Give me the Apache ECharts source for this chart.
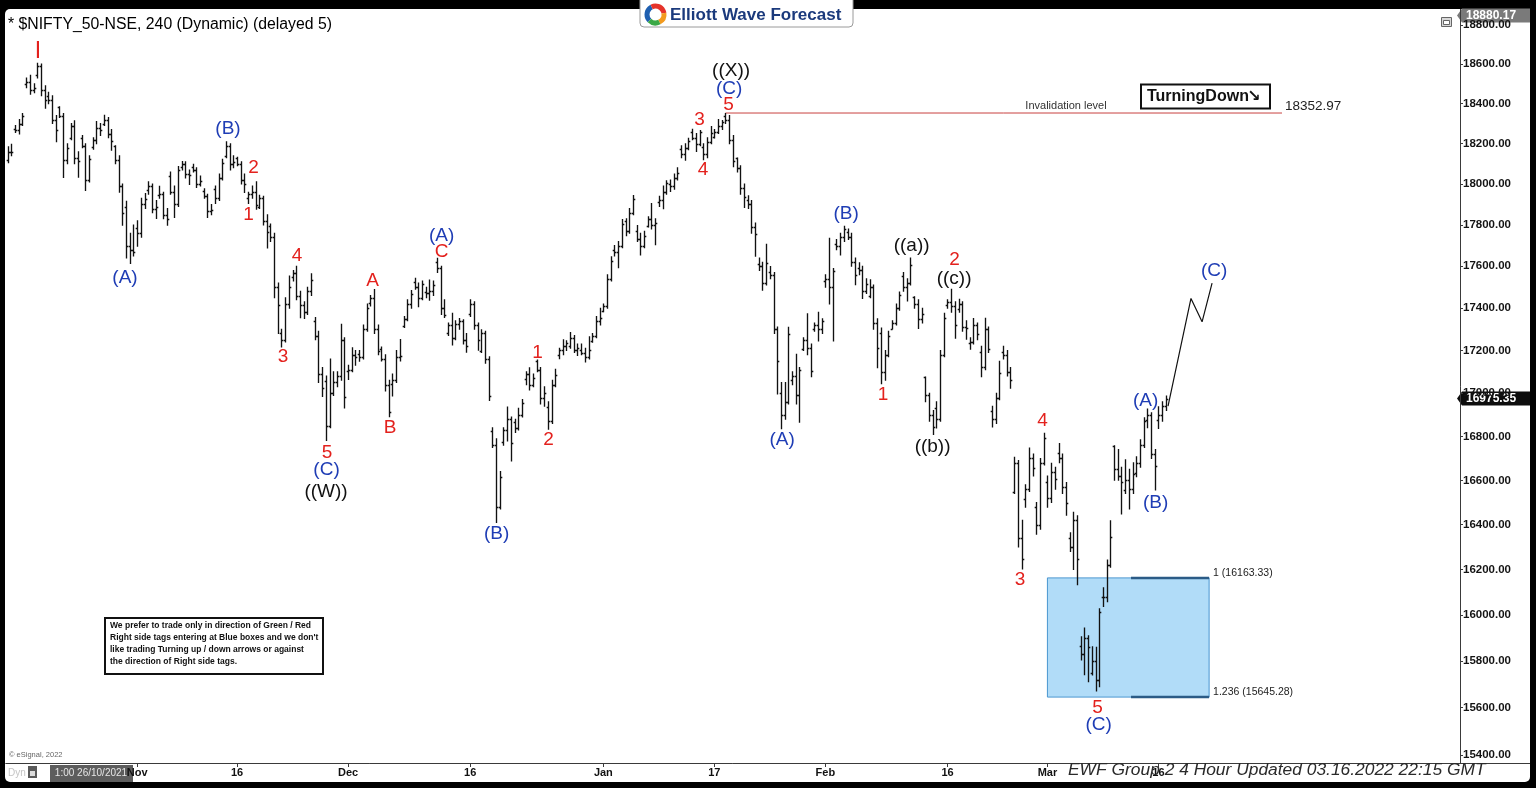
<!DOCTYPE html>
<html>
<head>
<meta charset="utf-8">
<title>NIFTY 50 - 4 Hour Elliott Wave</title>
<script src="https://cdn.jsdelivr.net/npm/echarts@6/dist/echarts.min.js"></script>
<style>
  html, body { margin: 0; padding: 0; background: #000; overflow: hidden; }
  #frame { position: absolute; left: 0; top: 0; width: 1536px; height: 788px; background: #000; }
  #paper { position: absolute; left: 5px; top: 9px; width: 1525px; height: 773px; background: #fff; border-radius: 5px; }
  #chart { position: absolute; left: 0; top: 0; width: 1536px; height: 788px; }
</style>
</head>
<body>
<div id="frame"><div id="paper"></div><div id="chart"></div></div>
<script>
// ---- Sessions: each trading day is split into three 240-minute bars (first day is partial) ----
const tradingDays = [
  '2021-10-13','2021-10-14','2021-10-18','2021-10-19','2021-10-20','2021-10-21','2021-10-22',
  '2021-10-25','2021-10-26','2021-10-27','2021-10-28','2021-10-29',
  '2021-11-01','2021-11-02','2021-11-03','2021-11-08','2021-11-09','2021-11-10','2021-11-11','2021-11-12',
  '2021-11-15','2021-11-16','2021-11-17','2021-11-18','2021-11-22','2021-11-23','2021-11-24','2021-11-25',
  '2021-11-26','2021-11-29','2021-11-30',
  '2021-12-01','2021-12-02','2021-12-03','2021-12-06','2021-12-07','2021-12-08','2021-12-09','2021-12-10',
  '2021-12-13','2021-12-14','2021-12-15','2021-12-16','2021-12-17','2021-12-20','2021-12-21','2021-12-22',
  '2021-12-23','2021-12-24','2021-12-27','2021-12-28','2021-12-29','2021-12-30','2021-12-31',
  '2022-01-03','2022-01-04','2022-01-05','2022-01-06','2022-01-07','2022-01-10','2022-01-11','2022-01-12',
  '2022-01-13','2022-01-14','2022-01-17','2022-01-18','2022-01-19','2022-01-20','2022-01-21','2022-01-24',
  '2022-01-25','2022-01-27','2022-01-28','2022-01-31',
  '2022-02-01','2022-02-02','2022-02-03','2022-02-04','2022-02-07','2022-02-08','2022-02-09','2022-02-10',
  '2022-02-11','2022-02-14','2022-02-15','2022-02-16','2022-02-17','2022-02-18','2022-02-21','2022-02-22',
  '2022-02-23','2022-02-24','2022-02-25','2022-02-28',
  '2022-03-02','2022-03-03','2022-03-04','2022-03-07','2022-03-08','2022-03-09','2022-03-10','2022-03-11',
  '2022-03-14','2022-03-15','2022-03-16'
];
const firstDaySessions = 2;

// ---- Bars: [open, high, low, close], one row per trading day ----
const ohlc = [
  [18120,18185,18105,18160],[18160,18197,18140,18161],                               // 10-13
  [18272,18290,18255,18270],[18270,18320,18248,18300],[18300,18350,18290,18338],     // 10-14
  [18500,18530,18480,18510],[18510,18543,18447,18470],[18470,18500,18455,18477],     // 10-18
  [18545,18604,18530,18590],[18590,18600,18440,18470],[18470,18490,18377,18418],     // 10-19
  [18439,18458,18400,18420],[18420,18440,18300,18320],[18320,18340,18209,18266],     // 10-20
  [18382,18384,18330,18340],[18340,18350,18033,18120],[18120,18200,18100,18178],     // 10-21
  [18230,18300,18220,18290],[18290,18314,18100,18130],[18130,18160,18034,18114],     // 10-22
  [18229,18241,18180,18190],[18190,18200,17968,18020],[18020,18140,18010,18125],     // 10-25
  [18182,18230,18172,18220],[18220,18310,18200,18280],[18280,18300,18240,18268],     // 10-26
  [18296,18342,18290,18320],[18320,18330,18230,18250],[18250,18270,18167,18211],     // 10-27
  [18187,18190,18100,18120],[18120,18140,17960,17990],[17990,18000,17799,17857],     // 10-28
  [17890,17916,17640,17700],[17700,17760,17613,17680],[17680,17800,17650,17671],     // 10-29
  [17783,17820,17697,17760],[17760,17930,17740,17900],[17900,17954,17880,17929],     // 11-01
  [17971,18012,17950,17990],[17990,18000,17860,17880],[17880,17920,17832,17889],     // 11-02
  [17947,17989,17930,17950],[17950,17960,17830,17850],[17850,17880,17799,17829],     // 11-03
  [18040,18060,17950,17960],[17960,17990,17836,17900],[17900,18087,17890,18068],     // 11-08
  [18085,18112,18070,18100],[18100,18110,18030,18050],[18050,18070,17998,18044],     // 11-09
  [18084,18098,18060,18070],[18070,18080,17983,18000],[18000,18040,17990,18017],     // 11-10
  [17967,17977,17930,17940],[17940,17950,17836,17870],[17870,17900,17850,17873],     // 11-11
  [17977,17990,17905,17930],[17930,18050,17920,18030],[18030,18123,18020,18102],     // 11-12
  [18141,18210,18130,18190],[18190,18200,18070,18100],[18100,18140,18080,18109],     // 11-15
  [18127,18132,18090,18100],[18100,18110,18000,18020],[18020,18050,17959,17999],     // 11-16
  [17930,17960,17905,17950],[17950,17990,17930,17960],[17960,18012,17877,17898],     // 11-17
  [17890,17945,17880,17930],[17930,17940,17800,17820],[17820,17850,17688,17765],     // 11-18
  [17796,17805,17720,17740],[17740,17760,17450,17500],[17500,17520,17280,17416],     // 11-22
  [17281,17300,17216,17250],[17250,17450,17240,17420],[17420,17553,17400,17503],     // 11-23
  [17550,17580,17530,17570],[17570,17600,17440,17460],[17460,17480,17354,17415],     // 11-24
  [17417,17430,17351,17380],[17380,17500,17370,17480],[17480,17564,17460,17536],     // 11-25
  [17338,17355,17250,17270],[17270,17290,17050,17090],[17090,17120,16985,17026],     // 11-26
  [17055,17080,16782,16850],[16850,17160,16840,17000],[17000,17100,16990,17053],     // 11-29
  [17051,17100,17030,17080],[17080,17324,17060,17250],[17250,17260,16931,16983],     // 11-30
  [17104,17130,17064,17110],[17110,17213,17100,17180],[17180,17200,17130,17167],     // 12-01
  [17183,17200,17149,17170],[17170,17320,17160,17300],[17300,17420,17290,17401],     // 12-02
  [17424,17460,17410,17450],[17450,17489,17280,17300],[17300,17320,17180,17196],     // 12-03
  [17209,17216,17150,17160],[17160,17180,17010,17040],[17040,17060,16891,16912],     // 12-06
  [17044,17090,16987,17060],[17060,17200,17050,17170],[17170,17251,17150,17176],     // 12-07
  [17315,17360,17308,17350],[17350,17440,17340,17420],[17420,17484,17400,17469],     // 12-08
  [17524,17543,17490,17500],[17500,17520,17406,17450],[17450,17530,17440,17516],     // 12-09
  [17476,17500,17450,17470],[17470,17534,17438,17480],[17480,17530,17460,17511],     // 12-10
  [17619,17639,17570,17590],[17590,17600,17370,17400],[17400,17440,17355,17368],     // 12-13
  [17283,17330,17270,17320],[17320,17376,17225,17260],[17260,17340,17250,17324],     // 12-14
  [17323,17351,17300,17340],[17340,17345,17230,17250],[17250,17280,17192,17221],     // 12-15
  [17373,17440,17360,17420],[17420,17430,17300,17320],[17320,17330,17201,17248],     // 12-16
  [17196,17298,17190,17280],[17280,17290,17140,17160],[17160,17170,16966,16985],     // 12-17
  [16824,16840,16750,16760],[16760,16790,16410,16480],[16480,16640,16470,16614],     // 12-20
  [16773,16840,16760,16830],[16830,16936,16780,16880],[16880,16890,16688,16770],     // 12-21
  [16865,16880,16819,16840],[16840,16930,16830,16900],[16900,16971,16890,16955],     // 12-22
  [17066,17100,17040,17090],[17090,17119,17015,17040],[17040,17090,17030,17072],     // 12-23
  [17150,17155,17100,17110],[17110,17120,16950,16980],[16980,17030,16940,17003],     // 12-24
  [16938,16960,16833,16870],[16870,17060,16860,17040],[17040,17112,17030,17086],     // 12-27
  [17178,17210,17161,17200],[17200,17250,17180,17220],[17220,17245,17200,17233],     // 12-28
  [17220,17285,17210,17260],[17260,17270,17190,17200],[17200,17230,17176,17213],     // 12-29
  [17201,17230,17180,17190],[17190,17210,17146,17170],[17170,17264,17160,17204],     // 12-30
  [17244,17280,17238,17270],[17270,17360,17260,17340],[17340,17400,17320,17354],     // 12-31
  [17387,17420,17383,17410],[17410,17560,17400,17540],[17540,17646,17530,17625],     // 01-03
  [17681,17700,17650,17670],[17670,17720,17593,17700],[17700,17827,17690,17805],     // 01-04
  [17820,17830,17748,17770],[17770,17880,17760,17860],[17860,17944,17850,17925],     // 01-05
  [17769,17797,17720,17730],[17730,17760,17655,17700],[17700,17770,17690,17745],     // 01-06
  [17797,17840,17790,17830],[17830,17905,17780,17800],[17800,17830,17704,17812],     // 01-07
  [17913,17940,17890,17920],[17920,17990,17879,17960],[17960,18017,17950,18003],     // 01-10
  [17998,18020,17964,17990],[17990,18050,17975,18030],[18030,18081,18020,18055],     // 01-11
  [18171,18190,18130,18150],[18150,18200,18118,18180],[18180,18227,18170,18212],     // 01-12
  [18257,18272,18220,18230],[18230,18250,18161,18200],[18200,18265,18190,18257],     // 01-13
  [18185,18200,18120,18150],[18150,18230,18130,18210],[18210,18286,18200,18255],     // 01-14
  [18235,18270,18228,18260],[18260,18321,18250,18290],[18290,18315,18270,18308],     // 01-17
  [18337,18350,18300,18320],[18320,18340,18200,18220],[18220,18240,18085,18113],     // 01-18
  [18129,18129,18060,18080],[18080,18090,17950,17980],[17980,18000,17885,17938],     // 01-19
  [17921,17943,17880,17900],[17900,17920,17760,17790],[17790,17810,17648,17757],     // 01-20
  [17613,17640,17580,17600],[17600,17620,17485,17520],[17520,17707,17510,17617],     // 01-21
  [17575,17599,17540,17560],[17560,17570,17280,17300],[17300,17310,16997,17149],     // 01-24
  [17001,17050,16836,16900],[16900,17050,16880,16960],[16960,17309,16950,17278],     // 01-25
  [17062,17100,17040,17080],[17080,17182,16950,16990],[16990,17120,16866,17110],     // 01-27
  [17208,17260,17200,17250],[17250,17373,17180,17210],[17210,17230,17077,17102],     // 01-28
  [17301,17330,17290,17320],[17320,17380,17244,17300],[17300,17350,17280,17340],     // 01-31
  [17529,17560,17500,17540],[17540,17735,17420,17500],[17500,17590,17244,17576],     // 02-01
  [17706,17730,17680,17700],[17700,17760,17654,17740],[17740,17794,17720,17780],     // 02-02
  [17767,17781,17730,17740],[17740,17760,17600,17620],[17620,17640,17511,17560],     // 02-03
  [17591,17617,17560,17580],[17580,17600,17446,17480],[17480,17540,17470,17516],     // 02-04
  [17456,17536,17450,17500],[17500,17510,17300,17330],[17330,17350,17119,17213],     // 02-07
  [17280,17306,17044,17100],[17100,17200,17060,17180],[17180,17290,17170,17266],     // 02-08
  [17303,17340,17301,17330],[17330,17420,17320,17400],[17400,17477,17390,17464],     // 02-09
  [17554,17570,17480,17500],[17500,17540,17434,17520],[17520,17640,17510,17606],     // 02-10
  [17451,17454,17400,17420],[17420,17440,17303,17350],[17350,17400,17330,17374],     // 02-11
  [17076,17076,16960,16990],[16990,17000,16870,16900],[16900,16920,16809,16842],     // 02-14
  [16933,16960,16839,16880],[16880,17200,16870,17180],[17180,17376,17170,17352],     // 02-15
  [17415,17440,17400,17430],[17430,17490,17380,17410],[17410,17430,17257,17322],     // 02-16
  [17397,17442,17380,17420],[17420,17430,17290,17310],[17310,17340,17253,17304],     // 02-17
  [17236,17260,17205,17240],[17240,17351,17230,17320],[17320,17330,17250,17276],     // 02-18
  [17193,17220,17077,17120],[17120,17352,17110,17300],[17300,17310,17190,17206],     // 02-21
  [16918,16940,16844,16880],[16880,17000,16860,16980],[16980,17149,16970,17092],     // 02-22
  [17194,17220,17160,17180],[17180,17200,17080,17100],[17100,17120,17023,17063],     // 02-23
  [16548,16705,16540,16680],[16680,16690,16300,16340],[16340,16420,16203,16248],     // 02-24
  [16515,16580,16478,16560],[16560,16748,16550,16700],[16700,16720,16620,16658],     // 02-25
  [16481,16500,16357,16400],[16400,16700,16380,16680],[16680,16815,16670,16794],     // 02-28
  [16593,16620,16478,16520],[16520,16678,16500,16640],[16640,16660,16560,16606],     // 03-02
  [16723,16768,16680,16700],[16700,16720,16540,16570],[16570,16590,16442,16498],     // 03-03
  [16339,16364,16280,16300],[16300,16456,16200,16420],[16420,16440,16133,16245],     // 03-04
  [15867,15905,15805,15830],[15830,15944,15741,15900],[15900,15910,15711,15863],     // 03-07
  [15747,15862,15740,15800],[15800,15860,15671,15720],[15720,16028,15690,16013],     // 03-08
  [16078,16120,16038,16080],[16080,16243,16058,16220],[16220,16418,16210,16345],     // 03-09
  [16757,16758,16600,16650],[16650,16740,16600,16620],[16620,16660,16448,16594],     // 03-10
  [16557,16694,16540,16600],[16600,16650,16470,16560],[16560,16680,16540,16630],     // 03-11
  [16634,16707,16616,16680],[16680,16785,16660,16760],[16760,16887,16750,16871],     // 03-14
  [16877,16927,16840,16900],[16900,16910,16700,16720],[16720,16740,16556,16663],     // 03-15
  [16876,16937,16837,16900],[16900,16960,16870,16940],[16940,16987,16920,16975.35]   // 03-16
];

// ---- Axis ticks ----
const yTickPrices = [15400,15600,15800,16000,16200,16400,16600,16800,17000,17200,17400,17600,17800,18000,18200,18400,18600,18800];
const xTickDays = ['2021-11-01','2021-11-16','2021-12-01','2021-12-16','2022-01-03','2022-01-17','2022-02-01','2022-02-16','2022-03-02','2022-03-16'];
const xTickText = ['Nov','16','Dec','16','Jan','17','Feb','16','Mar','16'];
const priceRange = [15366, 18880.17];
const slotsShown = 393;   // bars plus empty space kept on the right for the projection

// ---- Wave study ----
const invalidationLevel = 18352.97;
const invalidationFromBar = 194;       // the ((X)) top
const invalidationToBar = 344.4;
const fibLevels = [16163.33, 15645.28];
const fibRatios = ['1', '1.236'];
const fibFromDay = '2022-03-02';
const fibToBar = 324.7;
const fibHeavyFromBar = 303.6;
const projection = [[313.6, 16940], [319.8, 17446], [322.8, 17335], [325.5, 17519]];

// [bar position, price, text, degree]  degree: 0 red (minor), 1 blue (intermediate), 2 black (primary)
const waveLabels = [
  [8.22, 18662, 'I', 0],
  [31.73, 17544, '(A)', 1],
  [59.57, 18273, '(B)', 1],
  [66.46, 18080, '2', 0],
  [65.11, 17849, '1', 0],
  [78.22, 17650, '4', 0],
  [74.43, 17170, '3', 0],
  [98.62, 17530, 'A', 0],
  [86.32, 16727, '5', 0],
  [86.19, 16648, '(C)', 1],
  [86.05, 16548, '((W))', 2],
  [103.35, 16840, 'B', 0],
  [117.27, 17669, 'C', 0],
  [117.27, 17747, '(A)', 1],
  [132.14, 16359, '(B)', 1],
  [143.22, 17188, '1', 0],
  [146.19, 16785, '2', 0],
  [187.0, 18318, '3', 0],
  [187.95, 18070, '4', 0],
  [194.84, 18394, '5', 0],
  [194.97, 18474, '(C)', 1],
  [195.51, 18565, '((X))', 2],
  [209.3, 16785, '(A)', 1],
  [226.59, 17854, '(B)', 1],
  [244.3, 17698, '((a))', 2],
  [236.59, 16995, '1', 0],
  [255.92, 17631, '2', 0],
  [255.78, 17539, '((c))', 2],
  [249.97, 16753, '((b))', 2],
  [273.62, 16155, '3', 0],
  [279.7, 16874, '4', 0],
  [294.57, 15599, '5', 0],
  [294.84, 15527, '(C)', 1],
  [307.54, 16964, '(A)', 1],
  [310.24, 16500, '(B)', 1],
  [326.05, 17578, '(C)', 1]
];
const degreeColors = ['#e3211d', '#1f3db5', '#111111'];

// ---- Derived helpers ----
const L = Math.log;
const FONT = "'Liberation Sans', Arial, Helvetica, sans-serif";
const firstBarOfDay = {};
let barCount = 0;
tradingDays.forEach((d, k) => { firstBarOfDay[d] = barCount; barCount += (k === 0 ? firstDaySessions : 3); });
const xTickIdx = xTickDays.map(d => firstBarOfDay[d]);
const barData = ohlc.map((b, i) => [i, L(b[0]), L(b[1]), L(b[2]), L(b[3])]);
const lastClose = ohlc[ohlc.length - 1][3];

const chart = echarts.init(document.getElementById('chart'), null, { renderer: 'canvas' });

const option = {
  animation: false,
  backgroundColor: 'transparent',
  grid: { left: 5.75, right: 76, top: 9.4, bottom: 25, containLabel: false },
  xAxis: {
    type: 'value',
    min: -0.5,
    max: slotsShown - 0.5,
    axisLine: { show: true, onZero: false, lineStyle: { color: '#3a3a3a', width: 1 } },
    axisTick: { show: true, customValues: xTickIdx, length: 4, lineStyle: { color: '#3a3a3a' } },
    axisLabel: {
      customValues: xTickIdx,
      formatter: v => xTickText[xTickIdx.indexOf(Math.round(v))] || '',
      color: '#111', fontWeight: 'bold', fontSize: 11, fontFamily: FONT, margin: 4
    },
    splitLine: { show: false }
  },
  yAxis: {
    type: 'value',
    position: 'right',
    min: L(priceRange[0]),
    max: L(priceRange[1]),
    axisLine: { show: true, onZero: false, lineStyle: { color: '#3a3a3a', width: 1 } },
    axisTick: { show: true, customValues: yTickPrices.map(L), length: 3, lineStyle: { color: '#3a3a3a' } },
    axisLabel: {
      customValues: yTickPrices.map(L),
      formatter: v => Math.exp(v).toFixed(2),
      color: '#141414', fontWeight: 'bold', fontSize: 11.5, fontFamily: FONT, margin: 3
    },
    splitLine: { show: false }
  },
  series: [
    {
      // Fibonacci extension area (blue box)
      type: 'custom',
      z: 1,
      clip: false,
      data: [[firstBarOfDay[fibFromDay], L(fibLevels[0]), fibToBar, L(fibLevels[1])]],
      encode: { x: [0, 2], y: [1, 3] },
      renderItem: (params, api) => {
        const a = api.coord([api.value(0), api.value(1)]);
        const b = api.coord([api.value(2), api.value(3)]);
        const m = api.coord([fibHeavyFromBar, api.value(1)]);
        const lbl = (txt, y) => ({
          type: 'text', x: b[0] + 4, y: y,
          style: { text: txt, fill: '#222', font: '10.5px ' + FONT, textAlign: 'left', textVerticalAlign: 'bottom', align: 'left', verticalAlign: 'bottom' }
        });
        return {
          type: 'group',
          children: [
            { type: 'rect', shape: { x: a[0], y: a[1], width: b[0] - a[0], height: b[1] - a[1] },
              style: { fill: '#b1dcf8', stroke: '#4a96d0', lineWidth: 1 } },
            { type: 'line', shape: { x1: m[0], y1: a[1], x2: b[0], y2: a[1] }, style: { stroke: '#2b5b86', lineWidth: 2.5 } },
            { type: 'line', shape: { x1: m[0], y1: b[1], x2: b[0], y2: b[1] }, style: { stroke: '#2b5b86', lineWidth: 2.5 } },
            lbl(fibRatios[0] + ' (' + fibLevels[0].toFixed(2) + ')', a[1] + 1),
            lbl(fibRatios[1] + ' (' + fibLevels[1].toFixed(2) + ')', b[1] + 1)
          ]
        };
      }
    },
    {
      // OHLC bars
      type: 'custom',
      z: 3,
      clip: true,
      data: barData,
      encode: { x: 0, y: [1, 2, 3, 4] },
      renderItem: (params, api) => {
        const i = api.value(0);
        const po = api.coord([i, api.value(1)]);
        const ph = api.coord([i, api.value(2)]);
        const pl = api.coord([i, api.value(3)]);
        const pc = api.coord([i, api.value(4)]);
        const xc = Math.round(ph[0]) + 0.5;
        const st = { stroke: '#111', lineWidth: 1.35 };
        return {
          type: 'group',
          children: [
            { type: 'line', shape: { x1: xc, y1: ph[1] - 0.5, x2: xc, y2: pl[1] + 0.5 }, style: st },
            { type: 'line', shape: { x1: xc - 1.8, y1: Math.round(po[1]) + 0.5, x2: xc, y2: Math.round(po[1]) + 0.5 }, style: st },
            { type: 'line', shape: { x1: xc, y1: Math.round(pc[1]) + 0.5, x2: xc + 1.8, y2: Math.round(pc[1]) + 0.5 }, style: st }
          ]
        };
      }
    },
    {
      // invalidation level
      type: 'line',
      z: 2,
      symbol: 'none',
      silent: true,
      data: [[invalidationFromBar, L(invalidationLevel)], [invalidationToBar, L(invalidationLevel)]],
      lineStyle: { color: '#c8403f', width: 1 }
    },
    {
      // projected (C) path
      type: 'line',
      z: 4,
      symbol: 'none',
      silent: true,
      data: projection.map(p => [p[0], L(p[1])]),
      lineStyle: { color: '#111', width: 1.2 }
    },
    {
      // wave labels
      type: 'custom',
      z: 6,
      clip: false,
      data: waveLabels.map(w => [w[0], L(w[1]), w[3]]),
      encode: { x: 0, y: 1 },
      renderItem: (params, api) => {
        const p = api.coord([api.value(0), api.value(1)]);
        const w = waveLabels[params.dataIndex];
        const size = w[2] === 'I' ? 23 : 19;
        return {
          type: 'text', x: p[0], y: p[1],
          style: {
            text: w[2], fill: degreeColors[w[3]], font: size + 'px ' + FONT,
            textAlign: 'center', textVerticalAlign: 'middle', align: 'center', verticalAlign: 'middle'
          }
        };
      }
    }
  ]
};
chart.setOption(option);

// ---- Overlays positioned from the axes ----
const yOf = p => chart.convertToPixel({ yAxisIndex: 0 }, L(p));
const xOf = i => chart.convertToPixel({ xAxisIndex: 0 }, i);
const yLast = yOf(lastClose);
const yTop = Math.max(yOf(priceRange[1]), 9.4 + 6);
const yInv = yOf(invalidationLevel);
const xInvEnd = xOf(invalidationToBar);

function tag(y, text, bg, z) {
  return {
    type: 'group', z: z,
    children: [
      { type: 'polygon', shape: { points: [[1457, y], [1462, y - 7], [1530, y - 7], [1530, y + 7], [1462, y + 7]] }, style: { fill: bg } },
      { type: 'text', x: 1466, y: y, style: { text: text, fill: '#fff', font: 'bold 12px ' + FONT, textVerticalAlign: 'middle', verticalAlign: 'middle' } }
    ]
  };
}

const noteLines = [
  'We prefer to trade only in direction of Green / Red',
  "Right side tags entering at Blue boxes and we don't",
  'like trading Turning up / down arrows or against',
  'the direction of Right side tags.'
];

const graphics = [
  // title
  { type: 'text', x: 8, y: 24.5, z: 10, style: { text: '* $NIFTY_50-NSE, 240 (Dynamic) (delayed 5)', fill: '#000', font: '15.8px ' + FONT, textVerticalAlign: 'middle', verticalAlign: 'middle' } },
  // brand header
  { type: 'group', z: 20, children: [
    { type: 'rect', shape: { x: 640, y: -4, width: 213, height: 31, r: 4 }, style: { fill: '#fff', stroke: '#9a9a9a', lineWidth: 1 } },
    { type: 'arc', shape: { cx: 655.5, cy: 14.5, r: 8.5, startAngle: Math.PI * 0.75, endAngle: Math.PI * 1.35 }, style: { stroke: '#1f5fb0', lineWidth: 5, fill: 'none' } },
    { type: 'arc', shape: { cx: 655.5, cy: 14.5, r: 8.5, startAngle: Math.PI * 1.35, endAngle: Math.PI * 1.95 }, style: { stroke: '#e5332a', lineWidth: 5, fill: 'none' } },
    { type: 'arc', shape: { cx: 655.5, cy: 14.5, r: 8.5, startAngle: -Math.PI * 0.05, endAngle: Math.PI * 0.35 }, style: { stroke: '#f39a1e', lineWidth: 5, fill: 'none' } },
    { type: 'arc', shape: { cx: 655.5, cy: 14.5, r: 8.5, startAngle: Math.PI * 0.35, endAngle: Math.PI * 0.75 }, style: { stroke: '#3aa845', lineWidth: 5, fill: 'none' } },
    { type: 'text', x: 670, y: 15, style: { text: 'Elliott Wave Forecast', fill: '#1b3a7c', font: 'bold 17px ' + FONT, textVerticalAlign: 'middle', verticalAlign: 'middle' } }
  ] },
  // window icon
  { type: 'group', z: 10, children: [
    { type: 'rect', shape: { x: 1441.5, y: 17.5, width: 10, height: 9 }, style: { fill: '#d8d8d8', stroke: '#666', lineWidth: 1 } },
    { type: 'rect', shape: { x: 1443.5, y: 20.5, width: 6, height: 4 }, style: { fill: '#fff', stroke: '#666', lineWidth: 1 } }
  ] },
  // invalidation texts
  { type: 'text', x: 1066, y: yInv - 7, z: 10, style: { text: 'Invalidation level', fill: '#333', font: '11px ' + FONT, textAlign: 'center', align: 'center', textVerticalAlign: 'middle', verticalAlign: 'middle' } },
  { type: 'text', x: xInvEnd + 3, y: yInv - 7, z: 10, style: { text: invalidationLevel.toFixed(2), fill: '#222', font: '13.5px ' + FONT, textVerticalAlign: 'middle', verticalAlign: 'middle' } },
  // turning down tag
  { type: 'group', z: 10, children: [
    { type: 'rect', shape: { x: 1141, y: 84.5, width: 129, height: 24 }, style: { fill: '#fff', stroke: '#111', lineWidth: 2 } },
    { type: 'text', x: 1147, y: 97, style: { text: 'TurningDown', fill: '#111', font: 'bold 16px ' + FONT, textVerticalAlign: 'middle', verticalAlign: 'middle' } },
    { type: 'text', x: 1254, y: 97, style: { text: '\u2198', fill: '#111', font: 'bold 16px DejaVu Sans', textVerticalAlign: 'middle', verticalAlign: 'middle', textAlign: 'center', align: 'center' } }
  ] },
  // trading note
  { type: 'group', z: 10, children: [
    { type: 'rect', shape: { x: 105, y: 618, width: 218, height: 56 }, style: { fill: '#fff', stroke: '#111', lineWidth: 2 } }
  ].concat(noteLines.map((t, k) => ({
    type: 'text', x: 110, y: 626 + k * 12,
    style: { text: t, fill: '#111', font: 'bold 8.5px ' + FONT, textVerticalAlign: 'middle', verticalAlign: 'middle' }
  }))) },
  // footer
  { type: 'text', x: 9, y: 755, z: 10, style: { text: '\u00a9 eSignal, 2022', fill: '#666', font: '7.5px ' + FONT, textVerticalAlign: 'middle', verticalAlign: 'middle' } },
  { type: 'line', z: 5, shape: { x1: 1460, y1: 763.5, x2: 1530, y2: 763.5 }, style: { stroke: '#3a3a3a', lineWidth: 1 } },
  { type: 'text', x: 8, y: 773, z: 10, style: { text: 'Dyn', fill: '#c4c4c4', font: '10px ' + FONT, textVerticalAlign: 'middle', verticalAlign: 'middle' } },
  { type: 'group', z: 10, children: [
    { type: 'rect', shape: { x: 28, y: 766, width: 9, height: 12 }, style: { fill: '#5a5a5a' } },
    { type: 'rect', shape: { x: 30, y: 771, width: 5, height: 5 }, style: { fill: '#ddd' } }
  ] },
  { type: 'group', z: 30, children: [
    { type: 'rect', shape: { x: 50, y: 765, width: 83, height: 17 }, style: { fill: '#5d5d5d' } },
    { type: 'text', x: 91, y: 773.5, style: { text: '1:00 26/10/2021', fill: '#e6e6e6', font: '10px ' + FONT, textAlign: 'center', align: 'center', textVerticalAlign: 'middle', verticalAlign: 'middle' } }
  ] },
  { type: 'text', x: 1068, y: 770, z: 30, style: { text: 'EWF Group 2 4 Hour Updated 03.16.2022 22:15 GMT', fill: '#2a2a2a', font: 'italic 17.4px ' + FONT, textVerticalAlign: 'middle', verticalAlign: 'middle' } },
  // price tags on the axis
  tag(yTop, priceRange[1].toFixed(2), '#7a7a7a', 40),
  tag(yLast, lastClose.toFixed(2), '#0d0d0d', 40)
];

chart.setOption({ graphic: graphics });
</script>
</body>
</html>
